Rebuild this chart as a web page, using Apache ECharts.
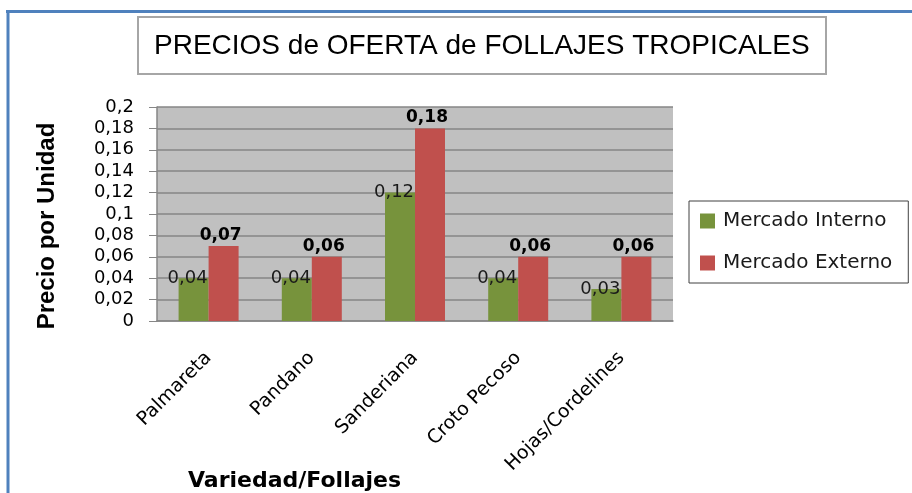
<!DOCTYPE html>
<html>
<head>
<meta charset="utf-8">
<script src="https://cdn.jsdelivr.net/npm/echarts@6/dist/echarts.min.js"></script>
<style>
  html, body { margin: 0; padding: 0; background: #fff; }
  #chart { width: 912px; height: 493px; }
</style>
</head>
<body>
<div id="chart"></div>
<script>
var categorias = ['Palmareta', 'Pandano', 'Sanderiana', 'Croto Pecoso', 'Hojas/Cordelines'];
var mercadoInterno = [0.04, 0.04, 0.12, 0.04, 0.03];
var mercadoExterno = [0.07, 0.06, 0.18, 0.06, 0.06];
var yTickLabels = ['0', '0,02', '0,04', '0,06', '0,08', '0,1', '0,12', '0,14', '0,16', '0,18', '0,2'];

var chart = echarts.init(document.getElementById('chart'));

function coma(v) {
  return String(v).replace('.', ',');
}

var option = {
  backgroundColor: '#ffffff',
  animation: false,
  title: [
    {
      text: 'PRECIOS de OFERTA de FOLLAJES TROPICALES',
      left: 138,
      top: 17,
      padding: [15, 17, 14, 16],
      borderColor: '#a6a6a6',
      borderWidth: 2,
      backgroundColor: '#fff',
      textStyle: { fontFamily: 'Liberation Sans', fontSize: 28, fontWeight: 'normal', color: '#000' }
    },
    {
      text: 'Variedad/Follajes',
      left: 188,
      top: 470,
      padding: 0,
      textStyle: { fontFamily: 'DejaVu Sans', fontSize: 22, fontWeight: 'bold', color: '#000' }
    }
  ],
  graphic: [
    { type: 'line', shape: { x1: 6, y1: 11.5, x2: 912, y2: 11.5 }, style: { stroke: '#4f81bd', lineWidth: 3 } },
    { type: 'line', shape: { x1: 8, y1: 11, x2: 8, y2: 493 }, style: { stroke: '#4f81bd', lineWidth: 3 } }
  ],
  legend: {
    orient: 'vertical',
    left: 689,
    top: 201,
    padding: [9, 16, 9, 11],
    itemWidth: 15,
    itemHeight: 15,
    itemGap: 20,
    icon: 'rect',
    borderColor: '#404040',
    borderWidth: 1,
    backgroundColor: '#fff',
    textStyle: { fontFamily: 'DejaVu Sans', fontSize: 20, color: '#1a1a1a', lineHeight: 22, padding: [0, 0, 0, 3] },
    data: ['Mercado Interno', 'Mercado Externo']
  },
  grid: {
    left: 157,
    right: 239,
    top: 107,
    bottom: 172,
    show: true,
    backgroundColor: '#c0c0c0',
    borderWidth: 0
  },
  xAxis: {
    type: 'category',
    data: categorias,
    axisLine: { show: true, lineStyle: { color: '#868686', width: 1.5 } },
    axisTick: { show: false },
    axisLabel: {
      rotate: 45,
      margin: 34,
      interval: 0,
      fontFamily: 'DejaVu Sans',
      fontSize: 19,
      color: '#000'
    }
  },
  yAxis: {
    type: 'value',
    min: 0,
    max: 0.2,
    interval: 0.02,
    name: 'Precio por Unidad',
    nameLocation: 'middle',
    nameGap: 98,
    nameTextStyle: { fontFamily: 'Liberation Sans', fontSize: 24, fontWeight: 'bold', color: '#000', padding: [0, 24, 0, 0] },
    axisLine: { show: true, lineStyle: { color: '#868686', width: 1.5 } },
    axisTick: { show: true, inside: false, length: 8, lineStyle: { color: '#868686' } },
    splitLine: { show: true, lineStyle: { color: '#868686', width: 1.5 } },
    axisLabel: {
      margin: 23,
      fontFamily: 'DejaVu Sans',
      fontSize: 18,
      color: '#000',
      formatter: function (value) { return yTickLabels[Math.round(value / 0.02)]; }
    }
  },
  series: [
    {
      name: 'Mercado Interno',
      type: 'bar',
      data: mercadoInterno,
      barWidth: 30,
      barGap: '0%',
      itemStyle: { color: '#77933c' },
      label: {
        show: true,
        position: 'top',
        distance: 0,
        offset: [-6, 9],
        fontFamily: 'DejaVu Sans',
        fontSize: 18,
        color: '#1a1a1a',
        formatter: function (p) { return coma(p.value); }
      }
    },
    {
      name: 'Mercado Externo',
      type: 'bar',
      data: mercadoExterno,
      barWidth: 30,
      itemStyle: { color: '#c0504d' },
      label: {
        show: true,
        position: 'top',
        distance: 2,
        offset: [-3, 0],
        fontFamily: 'DejaVu Sans',
        fontSize: 17,
        fontWeight: 'bold',
        color: '#000',
        formatter: function (p) { return coma(p.value); }
      }
    }
  ]
};

chart.setOption(option);
</script>
</body>
</html>
